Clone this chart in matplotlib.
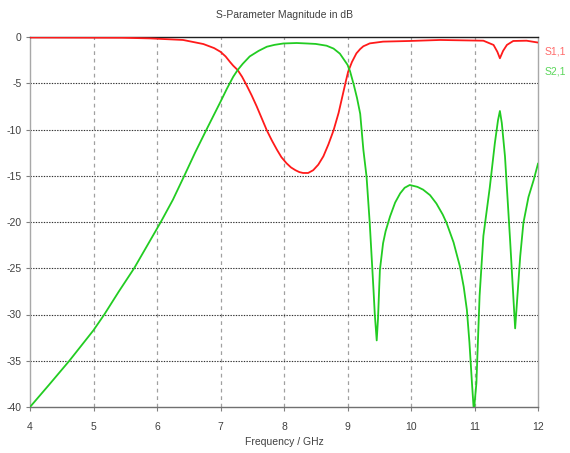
import matplotlib
matplotlib.use("Agg")
import matplotlib.pyplot as plt
from matplotlib import font_manager

# ---- data ----
s21_freq = [4.0, 4.3, 4.62, 5.0, 5.17, 5.4, 5.64, 5.85, 6.06, 6.25, 6.43, 6.6, 6.78, 7.0,
            7.1, 7.2, 7.27, 7.35, 7.46, 7.6, 7.73, 7.85, 7.99, 8.2, 8.36, 8.5, 8.67, 8.78,
            8.88, 8.95, 9.0, 9.04, 9.1, 9.15, 9.2, 9.25, 9.30, 9.35, 9.41, 9.43, 9.46,
            9.48, 9.51, 9.56, 9.6, 9.67, 9.75, 9.83, 9.9, 9.98, 10.1, 10.19, 10.3, 10.40,
            10.5, 10.56, 10.67, 10.77, 10.83, 10.88, 10.92, 10.96, 10.99, 11.03, 11.08,
            11.14, 11.24, 11.32, 11.37, 11.40, 11.43, 11.48, 11.56, 11.64, 11.72, 11.77,
            11.85, 11.93, 12.0]
s21_db = [-40.0, -37.6, -35.0, -31.7, -30.0, -27.5, -25.0, -22.5, -20.0, -17.6, -15.0, -12.5,
          -10.0, -7.0, -5.6, -4.3, -3.57, -2.9, -2.1, -1.5, -1.05, -0.85, -0.7, -0.65, -0.7,
          -0.75, -0.94, -1.25, -1.8, -2.5, -3.0, -3.7, -5.2, -6.6, -8.3, -12.2, -15.1, -20.1,
          -27.4, -30.0, -32.8, -30.5, -25.2, -22.3, -21.0, -19.4, -17.9, -16.9, -16.3, -16.0,
          -16.2, -16.5, -17.1, -18.0, -19.2, -20.1, -22.2, -24.8, -27.0, -29.5, -33.0, -37.4,
          -40.5, -37.4, -28.0, -21.5, -16.3, -11.5, -9.0, -8.0, -9.3, -12.9, -21.9, -31.5,
          -23.7, -20.1, -17.3, -15.5, -13.7]

s11_freq = [4.0, 5.45, 5.89, 6.41, 6.73, 6.9, 7.0, 7.08, 7.15, 7.2, 7.27, 7.34, 7.41, 7.49,
            7.57, 7.65, 7.73, 7.81, 7.89, 7.96, 8.04, 8.11, 8.18, 8.24, 8.30, 8.38, 8.46,
            8.54, 8.62, 8.70, 8.78, 8.86, 8.93, 8.97, 9.01, 9.07, 9.14, 9.2, 9.25, 9.3, 9.35,
            9.45, 9.56, 9.98, 10.46, 11.14, 11.30, 11.36, 11.40, 11.45, 11.51, 11.61, 11.82,
            12.0]
s11_db = [-0.05, -0.08, -0.15, -0.32, -0.76, -1.2, -1.6, -2.1, -2.7, -3.1, -3.57, -4.3, -5.2,
          -6.3, -7.5, -8.8, -10.1, -11.2, -12.2, -13.0, -13.65, -14.1, -14.4, -14.6, -14.7,
          -14.7, -14.4, -13.8, -12.9, -11.6, -10.1, -8.2, -6.1, -4.9, -3.75, -2.7, -1.77,
          -1.3, -1.0, -0.85, -0.69, -0.6, -0.5, -0.43, -0.32, -0.4, -0.86, -1.6, -2.3, -1.5,
          -0.86, -0.43, -0.4, -0.6]

x_ticks = [4, 5, 6, 7, 8, 9, 10, 11, 12]
y_ticks = [0, -5, -10, -15, -20, -25, -30, -35, -40]

title = "S-Parameter Magnitude in dB"
xlabel = "Frequency / GHz"
labels = ["S1,1", "S2,1"]

# ---- font ----
names = {f.name for f in font_manager.fontManager.ttflist}
fam = "Liberation Sans Narrow" if "Liberation Sans Narrow" in names else "Liberation Sans"
plt.rcParams["font.family"] = [fam, "DejaVu Sans"]
FS = 7.5

W, H = 570, 453
fig = plt.figure(figsize=(W / 100, H / 100), dpi=100)
x0, x1, y0, y1 = 30, 538, 37, 407
ax = fig.add_axes([x0 / W, 1 - y1 / H, (x1 - x0) / W, (y1 - y0) / H])

ax.plot(s11_freq, s11_db, color="#ff1a1a", lw=1.3, clip_on=True, zorder=3,
        solid_joinstyle="round")
ax.plot(s21_freq, s21_db, color="#22cc22", lw=1.3, clip_on=True, zorder=3,
        solid_joinstyle="round")

ax.set_xlim(4, 12)
ax.set_ylim(-40, 0)
ax.set_xticks(x_ticks)
ax.set_yticks(y_ticks)
ax.set_xticklabels([str(v) for v in x_ticks])
ax.set_yticklabels([str(v) for v in y_ticks])

for v in x_ticks[1:-1]:
    ax.axvline(v, color="#a0a0a0", lw=0.9, ls=(0, (3, 3)), zorder=1)
for v in y_ticks[1:-1]:
    ax.axhline(v, color="#303030", lw=0.8, ls=(0, (1.2, 1.2)), zorder=1)

ax.spines["left"].set_color("#a8a8a8")
ax.spines["right"].set_color("#a8a8a8")
ax.spines["bottom"].set_color("#707070")
ax.spines["top"].set_color("#202020")
for s in ax.spines.values():
    s.set_linewidth(1.0)

ax.tick_params(axis="both", colors="#808080", labelcolor="#404040", labelsize=FS,
               length=3, width=0.8, direction="out", pad=3)
ax.tick_params(axis="x", pad=8)

fig.text(0.5 * (x0 + x1) / W, 1 - 442 / H, xlabel, ha="center", va="center",
         fontsize=FS, color="#404040")
fig.text(0.5 * (x0 + x1) / W, 1 - 15 / H, title, ha="center", va="center",
         fontsize=FS, color="#404040")

fig.text(545 / W, 1 - 52 / H, labels[0], color="#ff6b6b", fontsize=FS, ha="left", va="center")
fig.text(545 / W, 1 - 71 / H, labels[1], color="#5ad65a", fontsize=FS, ha="left", va="center")

fig.savefig("out.png", dpi=100)
